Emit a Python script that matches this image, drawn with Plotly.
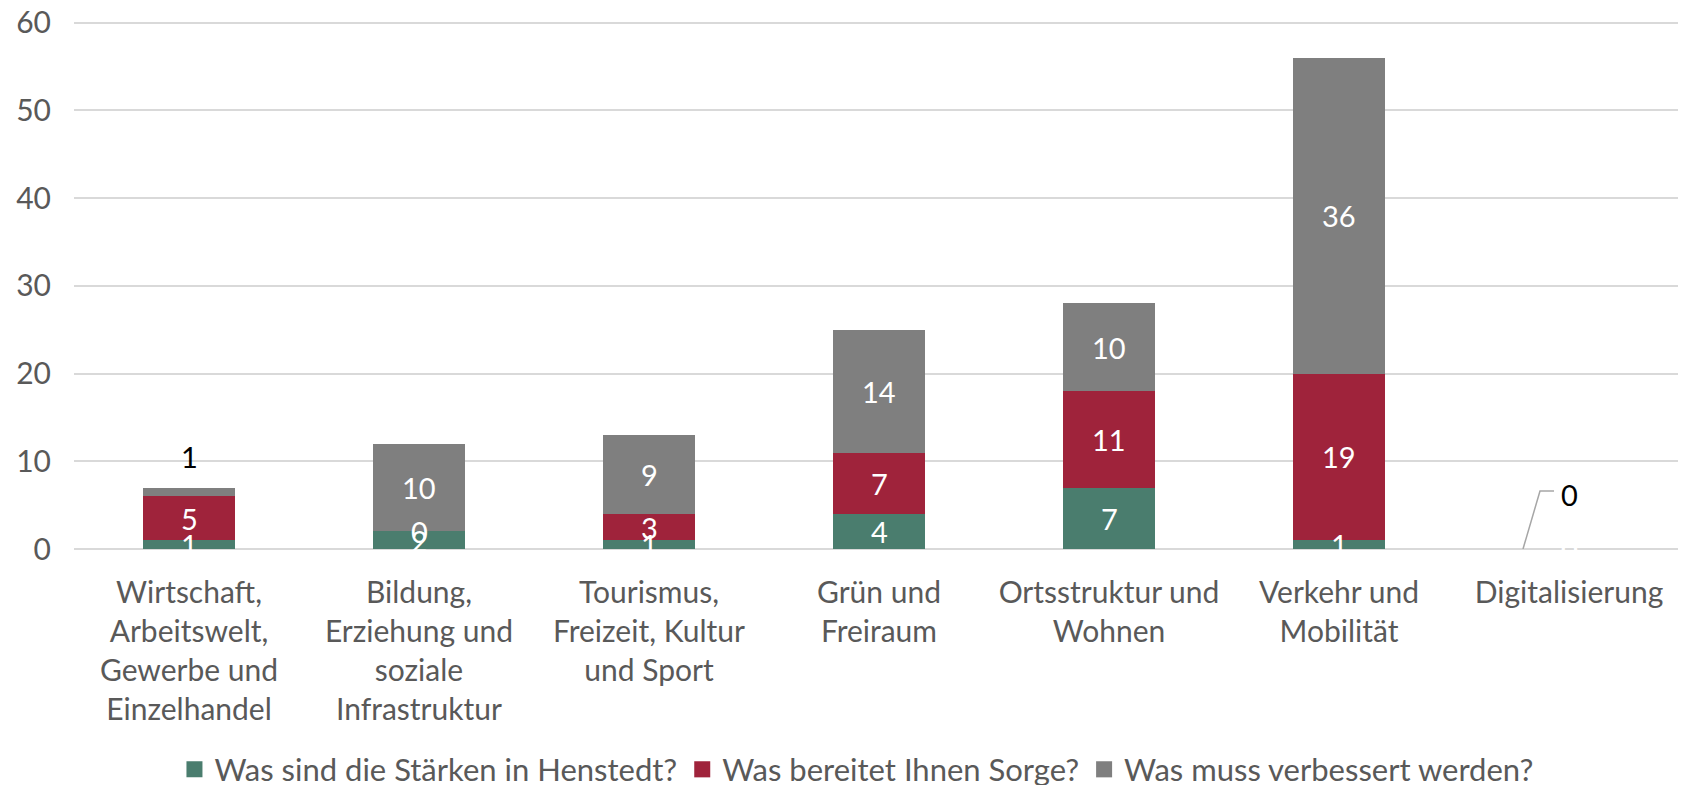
import plotly.graph_objects as go

categories = [
    "Wirtschaft,<br>Arbeitswelt,<br>Gewerbe und<br>Einzelhandel",
    "Bildung,<br>Erziehung und<br>soziale<br>Infrastruktur",
    "Tourismus,<br>Freizeit, Kultur<br>und Sport",
    "Grün und<br>Freiraum",
    "Ortsstruktur und<br>Wohnen",
    "Verkehr und<br>Mobilität",
    "Digitalisierung",
]
series_names = [
    "Was sind die Stärken in Henstedt?",
    "Was bereitet Ihnen Sorge?",
    "Was muss verbessert werden?",
]
staerken = [1, 2, 1, 4, 7, 1, 0]
sorge = [5, 0, 3, 7, 11, 19, 0]
verbessern = [1, 10, 9, 14, 10, 36, 0]
colors = ["#4A7D6E", "#9F233B", "#7F7F7F"]
y_ticks = [0, 10, 20, 30, 40, 50, 60]

FONT = "Lato, 'Open Sans', sans-serif"
GREY_TXT = "#595959"
FS = 30
FS_LBL = 29
FS_LEG = 31

series = [staerken, sorge, verbessern]

fig = go.Figure()
for name, vals, col in zip(series_names, series, colors):
    fig.add_trace(go.Bar(
        x=categories, y=vals, name=name, marker=dict(color=col, line=dict(width=0)),
        hoverinfo="x+y+name", showlegend=False,
    ))
# legend entries (square markers like the reference)
for name, col in zip(series_names, colors):
    fig.add_trace(go.Scatter(
        x=[None], y=[None], mode="markers", name=name,
        marker=dict(symbol="square", size=17, color=col), showlegend=True,
    ))

# data labels (centered in each segment)
annotations = []
base = [0] * len(categories)
last = len(categories) - 1
for si, vals in enumerate(series):
    for ci, v in enumerate(vals):
        mid = base[ci] + v / 2
        top = base[ci] + v
        if si == 2 and ci == 0:
            annotations.append(dict(x=categories[ci], y=top, text=str(v), showarrow=False,
                                    yshift=31, font=dict(color="black", size=FS_LBL, family=FONT)))
        elif si == 2 and ci == last:
            annotations.append(dict(x=categories[ci], y=top, text=str(v), showarrow=False,
                                    yshift=55, font=dict(color="black", size=FS_LBL, family=FONT)))
        else:
            annotations.append(dict(x=categories[ci], y=mid, text=str(v), showarrow=False,
                                    font=dict(color="white", size=FS_LBL, family=FONT)))
        base[ci] = top

# leader line for the moved "0" label of the last category
shapes = [dict(type="path", xref="x", yref="y", xsizemode="pixel", ysizemode="pixel",
               xanchor=last, yanchor=0, path="M -46,0 L -29,58 L -15,58",
               line=dict(color="#A6A6A6", width=1.5))]

fig.update_layout(
    barmode="stack",
    bargap=0.6,
    width=1678, height=785,
    margin=dict(l=66, r=2, t=13, b=244, autoexpand=False),
    paper_bgcolor="white", plot_bgcolor="white",
    font=dict(family=FONT, size=FS, color=GREY_TXT),
    annotations=annotations,
    shapes=shapes,
    showlegend=True,
    legend=dict(orientation="h", x=0.486, xanchor="center", y=-0.418, yanchor="middle",
                font=dict(size=FS_LEG, color=GREY_TXT, family=FONT), traceorder="normal",
                itemwidth=30, bgcolor="rgba(0,0,0,0)"),
    xaxis=dict(showgrid=False, showline=False, ticks="", tickfont=dict(size=FS, color=GREY_TXT),
               ticklabelstandoff=23, tickangle=0, automargin=False),
    yaxis=dict(range=[0, 60.2], tickvals=y_ticks, showgrid=True, gridcolor="#D9D9D9", gridwidth=1.5,
               zeroline=True, zerolinecolor="#D9D9D9", zerolinewidth=1.5, showline=False,
               tickfont=dict(size=FS, color=GREY_TXT), ticklabelstandoff=22, automargin=False,
               ticklabeloverflow="allow"),
)

fig.write_html("out.html")
